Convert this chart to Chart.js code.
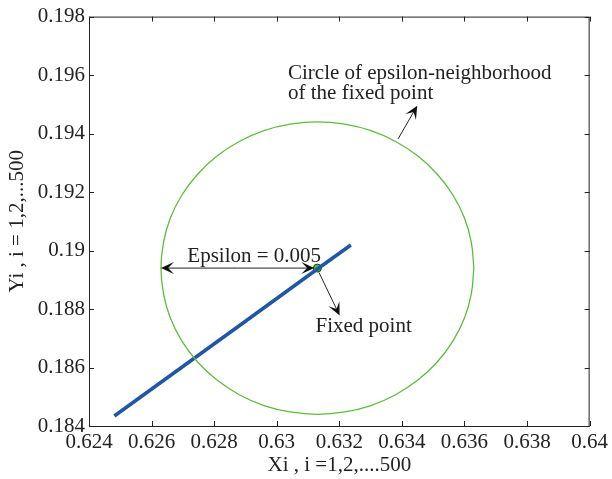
<!DOCTYPE html>
<html>
<head>
<meta charset="utf-8">
<script src="https://cdn.jsdelivr.net/npm/chart.js@4/dist/chart.umd.min.js"></script>
<style>
  html, body { margin: 0; padding: 0; background: #fff; }
  #wrap { width: 612px; height: 479px; }
</style>
</head>
<body>
<div id="wrap"><canvas id="chart" width="612" height="479"></canvas></div>
<script>
// axis ranges and ticks
const xTicks = [0.624, 0.626, 0.628, 0.63, 0.632, 0.634, 0.636, 0.638, 0.64];
const yTicks = [0.184, 0.186, 0.188, 0.19, 0.192, 0.194, 0.196, 0.198];

// circle of epsilon-neighborhood
const circleX = [0.6363, 0.63622, 0.63600, 0.63563, 0.63513, 0.63451, 0.63380, 0.63301, 0.63217,
  0.6313, 0.63043, 0.62959, 0.62880, 0.62809, 0.62747, 0.62697, 0.62660, 0.62638,
  0.6263, 0.62638, 0.62660, 0.62697, 0.62747, 0.62809, 0.62880, 0.62959, 0.63043,
  0.6313, 0.63217, 0.63301, 0.63380, 0.63451, 0.63513, 0.63563, 0.63600, 0.63622, 0.6363];
const circleY = [0.1894, 0.19027, 0.19111, 0.19190, 0.19261, 0.19323, 0.19373, 0.19410, 0.19432,
  0.1944, 0.19432, 0.19410, 0.19373, 0.19323, 0.19261, 0.19190, 0.19111, 0.19027,
  0.1894, 0.18853, 0.18769, 0.18690, 0.18619, 0.18557, 0.18507, 0.18470, 0.18448,
  0.1844, 0.18448, 0.18470, 0.18507, 0.18557, 0.18619, 0.18690, 0.18769, 0.18853, 0.1894];

// iterates (Xi, Yi)
const iterX = [0.62481, 0.6290, 0.6313, 0.63237];
const iterY = [0.18434, 0.18758, 0.18937, 0.19019];

// fixed point
const fixedX = [0.6313];
const fixedY = [0.1894];

const FONT = '"Liberation Serif", "Times New Roman", serif';
const TEXT = '#222';
const SIZE = 21;

function toPoints(xs, ys) {
    return xs.map((x, i) => ({ x: x, y: ys[i] }));
}

function fmt(v) {
    return Number(v.toFixed(3)).toString();
}

// arrow with a filled head at (x2, y2)
function arrow(ctx, x1, y1, x2, y2) {
    const a = Math.atan2(y2 - y1, x2 - x1);
    const len = 13, w = 6;
    ctx.beginPath();
    ctx.moveTo(x1, y1);
    ctx.lineTo(x2 - Math.cos(a) * 4, y2 - Math.sin(a) * 4);
    ctx.stroke();
    ctx.save();
    ctx.translate(x2, y2);
    ctx.rotate(a);
    ctx.beginPath();
    ctx.moveTo(0, 0);
    ctx.lineTo(-len, -w);
    ctx.lineTo(-len * 0.55, 0);
    ctx.lineTo(-len, w);
    ctx.closePath();
    ctx.fill();
    ctx.restore();
}

// box, inward ticks and annotations
const decorations = {
    id: 'decorations',
    afterDatasetsDraw(chart) {
        const { ctx, chartArea: a, scales } = chart;
        const xs = scales.x, ys = scales.y;
        ctx.save();
        ctx.strokeStyle = '#222';
        ctx.fillStyle = '#111';
        ctx.lineWidth = 1;
        ctx.strokeRect(a.left + 0.5, a.top + 0.5, a.right - a.left - 1, a.bottom - a.top);

        ctx.beginPath();
        xTicks.forEach(v => {
            const px = Math.round(xs.getPixelForValue(v)) + 0.5;
            ctx.moveTo(px, a.bottom); ctx.lineTo(px, a.bottom - 5);
            ctx.moveTo(px, a.top); ctx.lineTo(px, a.top + 5);
        });
        yTicks.forEach(v => {
            const py = Math.round(ys.getPixelForValue(v)) + 0.5;
            ctx.moveTo(a.left, py); ctx.lineTo(a.left + 5, py);
            ctx.moveTo(a.right, py); ctx.lineTo(a.right - 5, py);
        });
        ctx.stroke();

        const X = v => xs.getPixelForValue(v);
        const Y = v => ys.getPixelForValue(v);

        // epsilon double arrow
        const ax1 = X(0.6263), ax2 = X(0.6312), ay = Y(0.1894);
        arrow(ctx, (ax1 + ax2) / 2, ay, ax1, ay);
        arrow(ctx, (ax1 + ax2) / 2, ay, ax2, ay);

        // fixed point arrow
        arrow(ctx, X(0.63135), Y(0.18925), X(0.63201), Y(0.18778));
        // circle arrow
        arrow(ctx, X(0.63388), Y(0.19382), X(0.63449), Y(0.19495));

        ctx.fillStyle = TEXT;
        ctx.font = SIZE + 'px ' + FONT;
        ctx.textBaseline = 'alphabetic';
        ctx.textAlign = 'center';
        ctx.fillText('Epsilon = 0.005', X(0.62928), Y(0.18961));
        ctx.textAlign = 'left';
        ctx.fillText('Fixed point', X(0.63124), Y(0.18721));
        ctx.fillText('Circle of epsilon-neighborhood', X(0.63036), Y(0.19588));
        ctx.fillText('of the fixed point', X(0.63036), Y(0.19519));
        ctx.restore();
    }
};

new Chart(document.getElementById('chart'), {
    type: 'scatter',
    data: {
        datasets: [
            {
                label: 'circle',
                data: toPoints(circleX, circleY),
                showLine: true,
                borderColor: '#5cbd3c',
                borderWidth: 1.3,
                pointRadius: 0,
                tension: 0.4
            },
            {
                label: 'iterates',
                data: toPoints(iterX, iterY),
                showLine: true,
                borderColor: '#1f57a6',
                borderWidth: 3.6,
                pointRadius: 0,
                tension: 0
            },
            {
                label: 'fixed point',
                data: toPoints(fixedX, fixedY),
                pointRadius: 4,
                pointBackgroundColor: '#4fc23a',
                pointBorderColor: '#1a3a10',
                pointBorderWidth: 1
            }
        ]
    },
    options: {
        responsive: false,
        animation: false,
        layout: { padding: { top: 16, right: 18, left: 0, bottom: 0 } },
        plugins: {
            legend: { display: false },
            tooltip: { enabled: false }
        },
        scales: {
            x: {
                type: 'linear',
                min: 0.624,
                max: 0.64,
                afterFit: s => { s.height = 53; },
                afterBuildTicks: s => { s.ticks = xTicks.map(v => ({ value: v })); },
                grid: { display: false, drawTicks: false },
                border: { display: false },
                ticks: {
                    padding: 4,
                    color: TEXT,
                    font: { family: FONT, size: SIZE },
                    maxRotation: 0,
                    autoSkip: false,
                    callback: v => fmt(v)
                },
                title: {
                    display: true,
                    text: 'Xi , i =1,2,....500',
                    color: TEXT,
                    font: { family: FONT, size: SIZE },
                    padding: { top: 0, bottom: 1 }
                }
            },
            y: {
                type: 'linear',
                min: 0.184,
                max: 0.198,
                afterFit: s => { s.width = 89; },
                afterBuildTicks: s => { s.ticks = yTicks.map(v => ({ value: v })); },
                grid: { display: false, drawTicks: false },
                border: { display: false },
                ticks: {
                    padding: 4,
                    color: TEXT,
                    font: { family: FONT, size: SIZE },
                    autoSkip: false,
                    callback: v => fmt(v)
                },
                title: {
                    display: true,
                    text: 'Yi , i = 1,2,...500',
                    color: TEXT,
                    font: { family: FONT, size: SIZE },
                    padding: { top: 5, bottom: 0 }
                }
            }
        }
    },
    plugins: [decorations]
});
</script>
</body>
</html>
